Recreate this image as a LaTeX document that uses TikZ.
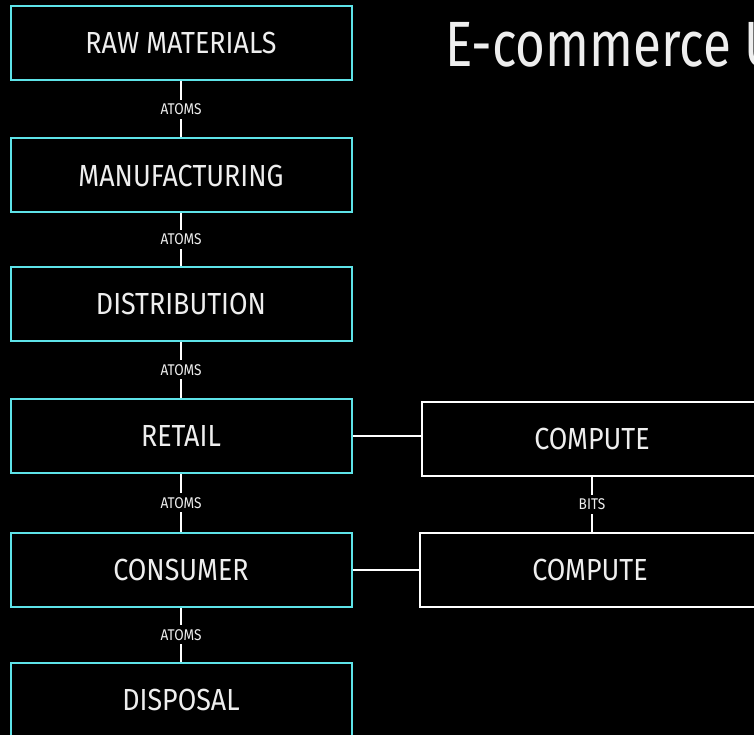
\documentclass[tikz,border=0pt]{standalone}
\usepackage{fontspec}
\setmainfont{Fira Sans}[FakeStretch=0.88]
\newfontfamily\titlefont{Fira Sans}[FakeStretch=0.8]
\usepackage{tikz}
\usetikzlibrary{positioning}
\definecolor{stageColor}{HTML}{5EE3E8}
\definecolor{inkColor}{HTML}{EEEEEE}

\tikzset{
  stage/.style={draw=stageColor, line width=2pt, minimum width=341pt, minimum height=74pt,
    inner sep=0pt, text=inkColor, font=\fontsize{30.5}{32}\selectfont},
  cloud/.style={stage, draw=white},
  link/.style={draw=white, line width=2pt},
  tag/.style={fill=black, text=inkColor, inner sep=4pt, font=\fontsize{15.5}{16}\selectfont}
}

\begin{document}
\begin{tikzpicture}[x=1pt,y=-1pt]
          \fill[black] (0,0) rectangle (754,735);
          \clip (0,0) rectangle (754,735);
          \node[anchor=base west, text=inkColor, font=\titlefont\fontsize{64}{66}\selectfont] (title) at (442,67) {E-commerce U};
          \node[stage] (raw) at (181,43) {RAW MATERIALS};
          \node[stage] (manu) at (181,175.5) {MANUFACTURING};
          \node[stage] (dist) at (181,303.5) {DISTRIBUTION};
          \node[stage] (retail) at (181,436) {RETAIL};
          \node[stage] (consumer) at (181,569.5) {CONSUMER};
          \node[stage] (disposal) at (181,700) {DISPOSAL};
          \node[cloud] (cloud1) at (592,439) {COMPUTE};
          \node[cloud] (cloud2) at (590,569.5) {COMPUTE};
          \draw[link] (raw) -- node[tag] {ATOMS} (manu);
          \draw[link] (manu) -- node[tag] {ATOMS} (dist);
          \draw[link] (dist) -- node[tag] {ATOMS} (retail);
          \draw[link] (retail) -- node[tag] {ATOMS} (consumer);
          \draw[link] (consumer) -- node[tag] {ATOMS} (disposal);
          \draw[link] (cloud1) -- node[tag] {BITS} (cloud1 |- cloud2.north);
          \draw[link] (retail.east) -- (retail.east -| cloud1.west);
          \draw[link] (consumer.east) -- (cloud2.west);
        \end{tikzpicture}
\end{document}
